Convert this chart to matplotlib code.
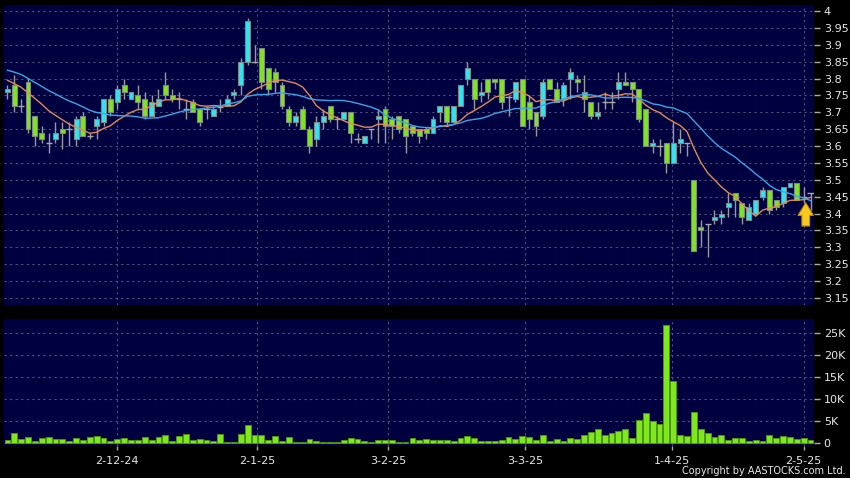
import numpy as np
import pandas as pd
import matplotlib
matplotlib.use('Agg')
from matplotlib import pyplot as plt

# daily candles (index 0 = first candle on the left)
opens = [3.76, 3.78, 3.72, 3.79, 3.69, 3.64, 3.61, 3.62, 3.65, 3.65,
         3.62, 3.69, 3.63, 3.66, 3.67, 3.74, 3.73, 3.78, 3.74, 3.75,
         3.74, 3.69, 3.72, 3.78, 3.75, 3.74, 3.71, 3.73, 3.71, 3.71,
         3.69, 3.715, 3.72, 3.75, 3.78, 3.85, 3.85, 3.89, 3.83, 3.82,
         3.78, 3.71, 3.67, 3.71, 3.65, 3.62, 3.67, 3.72, 3.68, 3.68,
         3.70, 3.62, 3.61, 3.65, 3.68, 3.71, 3.68, 3.69, 3.68, 3.66,
         3.65, 3.65, 3.64, 3.70, 3.72, 3.67, 3.72, 3.80, 3.80, 3.75,
         3.80, 3.80, 3.80, 3.745, 3.74, 3.80, 3.73, 3.70, 3.69, 3.80,
         3.77, 3.74, 3.80, 3.80, 3.76, 3.73, 3.69, 3.73, 3.73, 3.77,
         3.79, 3.79, 3.77, 3.71, 3.60, 3.60, 3.61, 3.55, 3.61, 3.61,
         3.50, 3.36, 3.37, 3.38, 3.39, 3.42, 3.46, 3.43, 3.38, 3.40,
         3.45, 3.47, 3.44, 3.43, 3.48, 3.49, 3.45, 3.46]
highs = [3.78, 3.81, 3.74, 3.80, 3.69, 3.66, 3.64, 3.67, 3.67, 3.67,
         3.69, 3.70, 3.64, 3.69, 3.74, 3.75, 3.78, 3.80, 3.76, 3.78,
         3.76, 3.75, 3.77, 3.82, 3.77, 3.76, 3.74, 3.74, 3.71, 3.72,
         3.72, 3.74, 3.75, 3.77, 3.86, 3.98, 3.90, 3.89, 3.83, 3.83,
         3.79, 3.72, 3.70, 3.72, 3.66, 3.69, 3.71, 3.72, 3.69, 3.70,
         3.70, 3.64, 3.63, 3.65, 3.71, 3.72, 3.69, 3.69, 3.68, 3.66,
         3.65, 3.655, 3.69, 3.72, 3.72, 3.72, 3.78, 3.85, 3.80, 3.79,
         3.80, 3.80, 3.80, 3.75, 3.79, 3.80, 3.75, 3.70, 3.80, 3.80,
         3.79, 3.79, 3.83, 3.81, 3.81, 3.73, 3.73, 3.76, 3.76, 3.82,
         3.82, 3.79, 3.77, 3.71, 3.62, 3.62, 3.61, 3.67, 3.65, 3.61,
         3.50, 3.38, 3.37, 3.41, 3.41, 3.46, 3.46, 3.43, 3.43, 3.44,
         3.48, 3.47, 3.44, 3.48, 3.49, 3.49, 3.48, 3.46]
lows = [3.74, 3.70, 3.70, 3.64, 3.60, 3.61, 3.58, 3.61, 3.59, 3.60,
        3.60, 3.63, 3.62, 3.62, 3.66, 3.69, 3.71, 3.74, 3.74, 3.71,
        3.68, 3.69, 3.72, 3.74, 3.73, 3.71, 3.68, 3.70, 3.66, 3.68,
        3.69, 3.70, 3.72, 3.74, 3.75, 3.84, 3.845, 3.77, 3.75, 3.76,
        3.71, 3.66, 3.66, 3.65, 3.58, 3.60, 3.65, 3.67, 3.65, 3.68,
        3.61, 3.61, 3.61, 3.62, 3.61, 3.61, 3.62, 3.64, 3.58, 3.63,
        3.61, 3.62, 3.64, 3.67, 3.66, 3.67, 3.72, 3.78, 3.71, 3.73,
        3.74, 3.77, 3.71, 3.69, 3.73, 3.66, 3.65, 3.63, 3.68, 3.77,
        3.73, 3.72, 3.74, 3.76, 3.70, 3.68, 3.68, 3.71, 3.71, 3.74,
        3.78, 3.73, 3.67, 3.60, 3.58, 3.57, 3.52, 3.55, 3.58, 3.57,
        3.29, 3.30, 3.27, 3.37, 3.37, 3.39, 3.39, 3.37, 3.38, 3.40,
        3.44, 3.40, 3.41, 3.42, 3.48, 3.44, 3.43, 3.41]
closes = [3.77, 3.72, 3.72, 3.65, 3.63, 3.62, 3.61, 3.64, 3.64, 3.65,
          3.68, 3.63, 3.63, 3.68, 3.74, 3.70, 3.77, 3.76, 3.76, 3.73,
          3.69, 3.73, 3.74, 3.75, 3.74, 3.74, 3.71, 3.70, 3.67, 3.71,
          3.71, 3.715, 3.74, 3.76, 3.85, 3.97, 3.85, 3.79, 3.77, 3.79,
          3.72, 3.67, 3.69, 3.65, 3.60, 3.67, 3.69, 3.68, 3.68, 3.70,
          3.64, 3.62, 3.63, 3.65, 3.69, 3.66, 3.66, 3.65, 3.63, 3.64,
          3.63, 3.64, 3.68, 3.72, 3.67, 3.72, 3.78, 3.83, 3.74, 3.76,
          3.76, 3.79, 3.73, 3.745, 3.79, 3.66, 3.68, 3.66, 3.79, 3.77,
          3.73, 3.78, 3.82, 3.79, 3.74, 3.69, 3.70, 3.73, 3.73, 3.79,
          3.78, 3.77, 3.68, 3.60, 3.61, 3.60, 3.55, 3.61, 3.62, 3.61,
          3.29, 3.35, 3.37, 3.39, 3.40, 3.43, 3.44, 3.39, 3.42, 3.44,
          3.47, 3.41, 3.42, 3.48, 3.49, 3.44, 3.45, 3.46]
volume = [750, 2400, 1040, 1500, 600, 1270, 1500, 1040, 900, 530,
          1200, 750, 1350, 1650, 1270, 450, 980, 1200, 750, 830,
          1420, 750, 1350, 1800, 450, 1570, 2030, 750, 980, 680,
          530, 2100, 300, 300, 2100, 4140, 1800, 1880, 830, 1720,
          600, 1350, 230, 300, 980, 530, 230, 230, 300, 750,
          1270, 900, 450, 230, 680, 680, 830, 380, 380, 1270,
          750, 900, 830, 750, 750, 450, 1200, 1650, 1200, 600,
          600, 600, 680, 1420, 1040, 1650, 1500, 830, 1960, 530,
          900, 450, 1270, 1040, 1880, 2490, 3240, 1880, 2260, 2790,
          3310, 1200, 5200, 6780, 5120, 4430, 26670, 14080, 1960, 1650,
          7080, 3170, 2410, 1500, 1800, 830, 1200, 1200, 530, 830,
          600, 1800, 1200, 1720, 1420, 980, 1200, 680]
# closes before the first candle, estimated from where the two averages start
close_before = [3.84, 3.86, 3.88, 3.87, 3.85, 3.86, 3.84, 3.86, 3.85, 3.84,
                3.82, 3.83, 3.81, 3.80, 3.79, 3.80, 3.78, 3.77, 3.78]
date_labels = ['2-12-24', '2-1-25', '3-2-25', '3-3-25', '1-4-25', '2-5-25']
price_ticks = [3.15, 3.2, 3.25, 3.3, 3.35, 3.4, 3.45, 3.5, 3.55, 3.6,
               3.65, 3.7, 3.75, 3.8, 3.85, 3.9, 3.95, 4.0]
vol_ticks = [0, 5000, 10000, 15000, 20000, 25000]
vol_labels = ['0', '5K', '10K', '15K', '20K', '25K']

BG = '#000040'
UP = '#33e3ef'
DOWN = '#80e41e'
GRID = '#50507e'
TXT = '#e8e8e8'

o = np.array(opens)
h = np.array(highs)
l = np.array(lows)
c = np.array(closes)
x = np.arange(len(c))
n_before = len(close_before)
full = pd.Series(close_before + closes)
ma10 = full.rolling(10).mean().iloc[n_before:].values
ma20 = full.rolling(20).mean().iloc[n_before:].values

tick_pos = [16.0, 36.4, 55.5, 75.4, 96.8, 116.0]

fig = plt.figure(figsize=(8.5, 4.78), dpi=100)
fig.patch.set_facecolor('black')
ax = fig.add_axes([4 / 850, 173 / 478, 810 / 850, 300 / 478])
axv = fig.add_axes([4 / 850, 32 / 478, 810 / 850, 127 / 478])

for a in (ax, axv):
    a.set_facecolor(BG)
    for s in a.spines.values():
        s.set_visible(False)
    a.set_xlim(-0.5, 117.5)
    a.set_xticks(tick_pos)
    a.grid(True, color=GRID, linestyle=(0, (2, 3)), linewidth=0.8)
    a.set_axisbelow(True)
    a.yaxis.tick_right()
    a.tick_params(axis='y', colors='#aaaaaa', labelcolor=TXT, length=4, width=1,
                  pad=3, labelsize=8)

# price panel
ax.set_ylim(3.129, 4.018)
ax.set_yticks(price_ticks)
ax.set_yticklabels(['%g' % v for v in price_ticks])
ax.tick_params(axis='x', length=0, labelbottom=False)

ax.vlines(x, l, h, color='#9a9a9a', linewidth=1, zorder=2)
body = c != o
cols = np.where(c > o, UP, DOWN)
ax.bar(x[body], np.abs(c - o)[body], bottom=np.minimum(o, c)[body], width=0.72,
       color=cols[body], edgecolor='#7c8a84', linewidth=0.8, zorder=3)
doji = ~body
ax.hlines(c[doji], x[doji] - 0.45, x[doji] + 0.45, color='#a8a8a8', linewidth=1, zorder=3)
ax.plot(x, ma10, color='#e28a55', linewidth=1, zorder=4)
ax.plot(x, ma20, color='#3aa6e6', linewidth=1, zorder=4)

# arrow under the last price
ax.annotate('', xy=(x[-1] - 0.7, c[-1] - 0.02), xytext=(x[-1] - 0.7, c[-1] - 0.105),
            arrowprops=dict(arrowstyle='simple,head_width=1.1,head_length=0.9,tail_width=0.55',
                            facecolor='#f8c820', edgecolor='#c89000', linewidth=0.8),
            zorder=5)

# volume panel
axv.set_ylim(-600, 28100)
axv.set_yticks(vol_ticks)
axv.set_yticklabels(vol_labels)
axv.bar(x, volume, width=0.85, color='#7ee81c', edgecolor='#4f9a10', linewidth=0.6, zorder=3)
axv.set_xticklabels(date_labels)
axv.tick_params(axis='x', colors='#aaaaaa', labelcolor=TXT, length=3, width=1,
                pad=4, labelsize=8)

fig.text(0.995, 0.004, 'Copyright by AASTOCKS.com Ltd.', ha='right', va='bottom',
         fontsize=7, color=TXT)

fig.savefig('out.png', dpi=100, facecolor='black')
